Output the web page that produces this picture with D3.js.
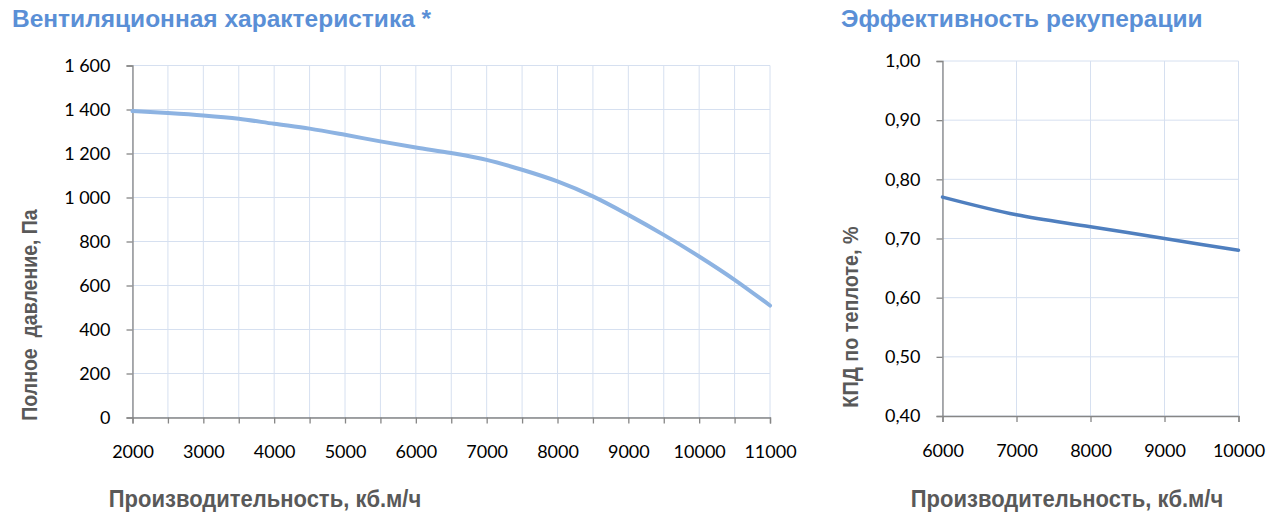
<!DOCTYPE html>
<html>
<head>
<meta charset="utf-8">
<script src="https://cdn.jsdelivr.net/npm/d3@7"></script>
<style>
  body { margin: 0; background: #fff; }
  svg { display: block; }
  .tick text { font-family: Lato, "Open Sans", sans-serif; font-size: 18px; fill: #000; }
  .title { font-family: "Liberation Sans", Arial, sans-serif; font-weight: bold; font-size: 24.5px; fill: #5A8FD6; }
  .axis-title { font-family: "Liberation Sans", Arial, sans-serif; font-weight: bold; fill: #595959; }
</style>
</head>
<body>
<svg id="chart" width="1284" height="518"></svg>
<script>
// fan curve: airflow (m3/h) vs total pressure (Pa)
var fanFlow = [2000, 2500, 3000, 3500, 4000, 4500, 5000, 5500, 6000, 6500, 7000, 7500, 8000, 8500, 9000, 9500, 10000, 10500, 11000];
var fanPressure = [1393, 1384, 1373, 1358, 1335, 1313, 1285, 1255, 1227, 1202, 1171, 1126, 1073, 1005, 921, 830, 732, 626, 509];
var fanYTicks = [0, 200, 400, 600, 800, 1000, 1200, 1400, 1600];
var fanXTicks = [2000, 3000, 4000, 5000, 6000, 7000, 8000, 9000, 10000, 11000];

// heat recovery efficiency
var recFlow = [6000, 7000, 8000, 9000, 10000];
var recEff = [0.77, 0.74, 0.72, 0.70, 0.68];
var recYTicks = [0.4, 0.5, 0.6, 0.7, 0.8, 0.9, 1.0];

var ru = d3.formatLocale({decimal: ",", thousands: "\u00a0", grouping: [3], currency: ["", ""]});

var svg = d3.select("#chart");

function drawChart(opt) {
    var x = d3.scaleLinear().domain(opt.xDomain).range([opt.left, opt.right]);
    var y = d3.scaleLinear().domain(opt.yDomain).range([opt.bottom, opt.top]);
    var g = svg.append("g");

    // gridlines
    g.append("g").selectAll("line").data(opt.xGrid).join("line")
        .attr("x1", d => x(d)).attr("x2", d => x(d))
        .attr("y1", opt.top).attr("y2", opt.bottom)
        .attr("stroke", "#D6E0F0").attr("stroke-width", 1);
    g.append("g").selectAll("line").data(opt.yTicks).join("line")
        .attr("x1", opt.left).attr("x2", opt.right)
        .attr("y1", d => y(d)).attr("y2", d => y(d))
        .attr("stroke", "#D6E0F0").attr("stroke-width", 1);

    var yAxis = g.append("g").attr("transform", "translate(" + opt.left + ",0)")
        .call(d3.axisLeft(y).tickValues(opt.yTicks).tickFormat(opt.yFormat).tickSize(6).tickPadding(opt.yPad));
    var xAxis = g.append("g").attr("transform", "translate(0," + opt.bottom + ")")
        .call(d3.axisBottom(x).tickValues(opt.xGrid).tickFormat(d => opt.xTicks.indexOf(d) >= 0 ? d : "").tickSize(6).tickPadding(opt.xPad));
    [yAxis, xAxis].forEach(function (a) {
        a.select(".domain").attr("stroke", "#868686").attr("stroke-width", 1.3);
        a.selectAll(".tick line").attr("stroke", "#868686").attr("stroke-width", 1.3);
        a.attr("font-family", null).attr("font-size", null);
    });

    g.append("path")
        .datum(opt.xs.map((d, i) => [d, opt.ys[i]]))
        .attr("fill", "none")
        .attr("stroke", opt.color)
        .attr("stroke-width", opt.width)
        .attr("stroke-linecap", "round")
        .attr("d", d3.line().x(d => x(d[0])).y(d => y(d[1])).curve(d3.curveMonotoneX));

    svg.append("text").attr("class", "title").attr("x", opt.titleX).attr("y", 27).text(opt.title);
    // the source font is a bit taller than wide, so stretch titles vertically
    svg.append("text").attr("class", "axis-title").attr("text-anchor", "middle")
        .attr("font-size", 22)
        .attr("transform", "translate(" + opt.xTitleX + ",507) scale(1,1.12)")
        .text("Производительность, кб.м/ч");
    svg.append("text").attr("class", "axis-title").attr("text-anchor", "middle")
        .attr("font-size", opt.yTitleSize)
        .attr("transform", "translate(" + opt.yTitleX + "," + opt.yTitleY + ") rotate(-90) scale(1,1.12)")
        .attr("xml:space", "preserve")
        .text(opt.yTitle);
}

drawChart({
    xDomain: [2000, 11000], yDomain: [0, 1600],
    left: 132.5, right: 770, top: 65.5, bottom: 417.5,
    xGrid: d3.range(2000, 11001, 500), xTicks: fanXTicks, yTicks: fanYTicks,
    yFormat: ru.format(",d"), yPad: 16, xPad: 22,
    xs: fanFlow, ys: fanPressure, color: "#8DB3E2", width: 4,
    title: "Вентиляционная характеристика *", titleX: 12,
    xTitleX: 265, yTitle: "Полное  давление, Па", yTitleSize: 19.5, yTitleX: 37, yTitleY: 315
});

drawChart({
    xDomain: [6000, 10000], yDomain: [0.4, 1.0],
    left: 942.5, right: 1238.5, top: 61, bottom: 416,
    xGrid: d3.range(6000, 10001, 1000), xTicks: recFlow, yTicks: recYTicks,
    yFormat: ru.format(".2f"), yPad: 16, xPad: 22,
    xs: recFlow, ys: recEff, color: "#4F7FBF", width: 3.5,
    title: "Эффективность рекуперации", titleX: 841,
    xTitleX: 1067, yTitle: "КПД по теплоте, %", yTitleSize: 19.8, yTitleX: 858, yTitleY: 317
});
</script>
</body>
</html>
